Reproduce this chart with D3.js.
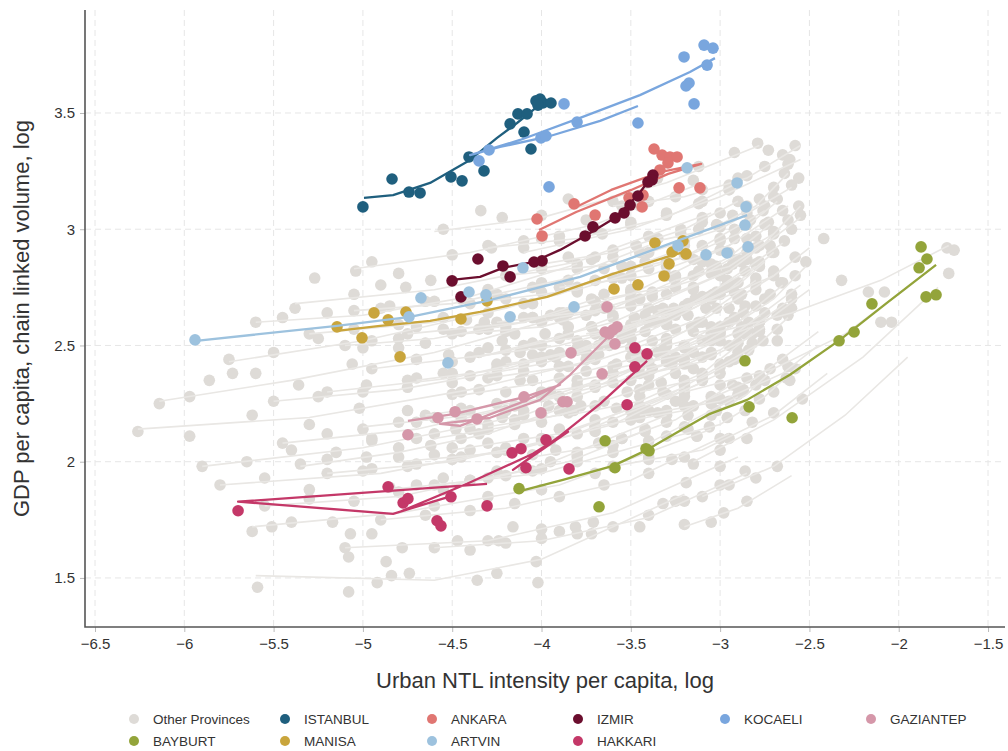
<!DOCTYPE html>
<html>
<head>
<meta charset="utf-8">
<script src="https://cdn.jsdelivr.net/npm/d3@7/dist/d3.min.js"></script>
<style>
    body { margin: 0; background: #fff; }
    .ntl-chart text { font-family: "Liberation Sans", Arial, sans-serif; fill: #333; }
</style>
</head>
<body>
<div class="ntl-chart"></div>
<script>
// tick values
const xTicks = [-6.5, -6, -5.5, -5, -4.5, -4, -3.5, -3, -2.5, -2, -1.5];
const yTicks = [1.5, 2, 2.5, 3, 3.5];

// legend rows
const legendRows = [
    ['Other Provinces', 'ISTANBUL', 'ANKARA', 'IZMIR', 'KOCAELI', 'GAZIANTEP'],
    ['BAYBURT', 'MANISA', 'ARTVIN', 'HAKKARI']
];

// highlighted provinces: observed points [ntl, gdp] and fitted path
const istanbulPts = [[-5.00,3.096],[-4.837,3.216],[-4.742,3.160],[-4.680,3.156],[-4.507,3.225],[-4.445,3.208],[-4.406,3.311],[-4.322,3.251],[-4.176,3.453],[-4.132,3.496],[-4.081,3.496],[-4.098,3.418],[-4.059,3.345],[-4.031,3.552],[-4.008,3.560],[-3.992,3.543],[-3.947,3.543],[-4.020,3.534]];
const istanbulFit = [[-4.994,3.135],[-4.831,3.147],[-4.624,3.199],[-4.400,3.298],[-4.249,3.393],[-4.137,3.457],[-4.025,3.526],[-3.992,3.547]];

const ankaraPts = [[-3.370,3.345],[-3.325,3.319],[-3.281,3.311],[-3.241,3.311],[-3.292,3.285],[-3.337,3.255],[-3.230,3.178],[-3.113,3.178],[-3.818,3.109],[-3.700,3.061],[-4.025,3.044],[-3.997,2.971],[-3.510,3.135],[-3.437,3.096],[-3.432,3.147]];
const ankaraFit = [[-4.014,2.997],[-3.806,3.074],[-3.498,3.169],[-3.291,3.238],[-3.106,3.281],[-3.330,3.247],[-3.610,3.169],[-3.806,3.096]];

const izmirPts = [[-3.376,3.233],[-3.381,3.212],[-3.404,3.203],[-3.460,3.143],[-3.504,3.104],[-3.538,3.070],[-3.588,3.049],[-3.712,3.010],[-3.756,2.971],[-3.997,2.864],[-4.042,2.859],[-4.216,2.842],[-4.176,2.795],[-4.356,2.872],[-4.501,2.778],[-4.451,2.709]];
const izmirFit = [[-4.501,2.782],[-4.344,2.795],[-4.216,2.834],[-4.048,2.859],[-3.896,2.911],[-3.756,2.971],[-3.588,3.049],[-3.460,3.147],[-3.376,3.233]];

const kocaeliPts = [[-4.350,3.294],[-4.294,3.341],[-4.003,3.393],[-3.975,3.401],[-3.874,3.539],[-3.801,3.461],[-3.460,3.457],[-3.958,3.182],[-3.202,3.741],[-3.090,3.792],[-3.040,3.779],[-3.174,3.629],[-3.073,3.706],[-3.146,3.539],[-3.191,3.616]];
const kocaeliFit = [[-3.460,3.530],[-3.672,3.466],[-3.952,3.401],[-4.232,3.354],[-4.400,3.319],[-4.120,3.384],[-3.784,3.479],[-3.449,3.577],[-3.169,3.676],[-3.029,3.736]];

const gaziantepPts = [[-4.748,2.116],[-4.580,2.189],[-4.484,2.215],[-4.361,2.184],[-4.098,2.279],[-4.003,2.210],[-3.880,2.258],[-3.857,2.258],[-3.835,2.468],[-3.661,2.378],[-3.644,2.558],[-3.600,2.567],[-3.577,2.580],[-3.622,2.550],[-3.589,2.507],[-3.633,2.666]];
const gaziantepFit = [[-4.748,2.176],[-4.484,2.206],[-4.092,2.279],[-3.896,2.331],[-4.120,2.253],[-4.456,2.154],[-4.568,2.163],[-4.288,2.189],[-4.008,2.266],[-3.840,2.374],[-3.616,2.546]];

const bayburtPts = [[-4.126,1.884],[-3.644,2.090],[-3.589,1.974],[-3.678,1.806],[-3.415,2.056],[-3.398,2.047],[-2.861,2.434],[-2.838,2.236],[-2.597,2.189],[-2.334,2.520],[-2.250,2.558],[-2.150,2.679],[-1.875,2.924],[-1.842,2.872],[-1.886,2.834],[-1.847,2.709],[-1.791,2.718]];
const bayburtFit = [[-4.132,1.871],[-3.880,1.922],[-3.600,1.982],[-3.409,2.051],[-3.225,2.133],[-3.057,2.206],[-2.849,2.266],[-2.609,2.374],[-2.329,2.524],[-2.066,2.683],[-1.791,2.847]];

const manisaPts = [[-5.145,2.580],[-4.938,2.640],[-4.859,2.610],[-4.759,2.644],[-5.005,2.533],[-4.792,2.451],[-4.451,2.614],[-4.305,2.692],[-3.594,2.743],[-3.460,2.761],[-3.314,2.799],[-3.286,2.851],[-3.365,2.941],[-3.269,2.902],[-3.208,2.950],[-3.191,2.894]];
const manisaFit = [[-5.145,2.563],[-4.904,2.584],[-4.624,2.606],[-4.344,2.644],[-3.969,2.709],[-3.600,2.808],[-3.297,2.881],[-3.180,2.907]];

const artvinPts = [[-5.940,2.524],[-4.675,2.705],[-4.524,2.425],[-4.406,2.730],[-4.311,2.718],[-4.742,2.623],[-4.176,2.623],[-4.104,2.834],[-3.818,2.666],[-3.185,3.264],[-3.236,2.928],[-3.079,2.890],[-2.961,2.898],[-2.905,3.199],[-2.855,3.096],[-2.861,3.018],[-2.844,2.924]];
const artvinFit = [[-5.934,2.520],[-5.145,2.584],[-4.736,2.623],[-4.305,2.692],[-3.784,2.795],[-3.225,2.954],[-2.849,3.061]];

const hakkariPts = [[-5.699,1.789],[-4.859,1.892],[-4.775,1.823],[-4.748,1.841],[-4.585,1.746],[-4.563,1.724],[-4.507,1.849],[-4.305,1.810],[-4.165,2.038],[-4.115,2.056],[-4.087,1.974],[-3.975,2.094],[-3.846,1.969],[-3.521,2.245],[-3.477,2.490],[-3.409,2.464],[-3.477,2.408]];
const hakkariFit = [[-4.305,1.905],[-5.699,1.828],[-4.831,1.776],[-4.501,1.853],[-4.792,1.785],[-4.417,1.905],[-4.048,2.034],[-3.852,2.129],[-4.160,1.965],[-3.896,2.111],[-3.672,2.249],[-3.409,2.434]];

// other provinces: fitted paths and observed points, one entry each
const grayFits = [
    [[-6.26,2.14],[-5.3,2.19],[-4.4,2.31],[-3.7,2.44]],
    [[-6.14,2.26],[-5.4,2.35],[-4.6,2.47],[-3.9,2.62]],
    [[-5.75,2.43],[-5.0,2.52],[-4.2,2.66],[-3.5,2.83]],
    [[-5.38,2.68],[-4.6,2.74],[-3.8,2.86],[-3.05,3.07]],
    [[-5.05,2.83],[-4.4,2.9],[-3.7,3.02],[-3.1,3.2]],
    [[-4.6,2.99],[-4.0,3.05],[-3.3,3.2],[-2.78,3.36]],
    [[-4.1,2.9],[-3.5,3.0],[-3.0,3.14],[-2.55,3.3]],
    [[-5.9,1.98],[-5.0,2.06],[-4.1,2.2],[-3.3,2.42]],
    [[-5.8,1.9],[-4.9,1.95],[-4.0,2.08],[-3.2,2.32]],
    [[-5.62,1.72],[-4.8,1.78],[-3.9,1.9],[-3.05,2.14]],
    [[-5.6,1.51],[-4.6,1.49],[-4.0,1.58],[-3.2,1.86]],
    [[-5.1,1.63],[-4.3,1.66],[-3.6,1.78],[-2.9,2.02]],
    [[-5.55,1.81],[-4.8,1.85],[-4.0,1.98],[-3.3,2.2]],
    [[-5.45,2.08],[-4.7,2.14],[-3.9,2.28],[-3.1,2.52]],
    [[-5.2,2.3],[-4.5,2.36],[-3.8,2.48],[-3.0,2.72]],
    [[-4.95,2.4],[-4.3,2.46],[-3.6,2.6],[-2.95,2.82]],
    [[-4.75,2.55],[-4.1,2.6],[-3.5,2.72],[-2.9,2.95]],
    [[-4.4,2.68],[-3.8,2.74],[-3.2,2.88],[-2.75,3.08]],
    [[-4.2,2.8],[-3.6,2.85],[-3.0,3.0],[-2.6,3.18]],
    [[-4.65,2.2],[-4.0,2.27],[-3.4,2.42],[-2.85,2.66]],
    [[-4.5,2.05],[-3.9,2.12],[-3.3,2.28],[-2.8,2.5]],
    [[-4.3,2.36],[-3.75,2.42],[-3.2,2.56],[-2.7,2.8]],
    [[-4.1,2.5],[-3.6,2.56],[-3.1,2.7],[-2.65,2.94]],
    [[-3.9,2.62],[-3.4,2.68],[-2.95,2.82],[-2.55,3.05]],
    [[-3.8,2.35],[-3.3,2.42],[-2.9,2.56],[-2.55,2.76]],
    [[-3.7,2.15],[-3.2,2.22],[-2.8,2.36],[-2.45,2.56]],
    [[-3.6,1.98],[-3.1,2.05],[-2.7,2.2],[-2.4,2.38]],
    [[-3.3,2.5],[-2.6,2.64],[-2.1,2.78],[-1.72,2.93]],
    [[-3.2,2.3],[-2.7,2.4],[-2.3,2.55],[-1.95,2.75]],
    [[-3.15,2.0],[-2.7,2.18],[-2.2,2.45],[-1.78,2.75]],
    [[-3.1,1.85],[-2.7,1.98],[-2.3,2.2],[-1.95,2.45]],
    [[-3.2,1.72],[-2.9,1.8],[-2.6,1.94]],
    [[-5.3,2.55],[-4.6,2.6],[-3.9,2.72],[-3.2,2.92]],
    [[-5.5,2.26],[-4.8,2.31],[-4.0,2.42],[-3.3,2.6]],
    [[-5.2,1.95],[-4.5,2.0],[-3.8,2.12],[-3.1,2.34]],
    [[-4.9,1.75],[-4.2,1.8],[-3.5,1.92],[-2.95,2.12]],
    [[-4.6,1.9],[-4.0,1.95],[-3.4,2.08],[-2.9,2.28]],
    [[-4.4,2.45],[-3.9,2.5],[-3.3,2.62],[-2.8,2.84]],
    [[-4.0,2.3],[-3.5,2.35],[-3.0,2.48],[-2.6,2.7]],
    [[-3.9,2.75],[-3.4,2.8],[-2.95,2.93],[-2.62,3.1]],
    [[-3.6,3.1],[-3.2,3.14],[-2.85,3.22],[-2.55,3.36]],
    [[-5.05,2.65],[-4.5,2.68],[-3.9,2.78],[-3.4,2.93]],
    [[-4.8,2.0],[-4.2,2.04],[-3.6,2.16],[-3.0,2.38]],
    [[-4.25,2.6],[-3.7,2.65],[-3.15,2.78],[-2.7,2.98]],
    [[-3.5,2.45],[-3.1,2.5],[-2.75,2.6],[-2.5,2.74]],
    [[-3.45,2.2],[-3.0,2.26],[-2.65,2.38],[-2.45,2.5]],
    [[-3.35,2.65],[-3.0,2.7],[-2.7,2.8],[-2.5,2.92]],
    [[-5.6,2.6],[-5.0,2.63],[-4.4,2.71],[-3.8,2.85]],
    [[-4.6,1.63],[-4.0,1.66],[-3.4,1.76],[-2.85,1.95]],
    [[-5.0,2.15],[-4.4,2.2],[-3.7,2.32],[-3.05,2.55]],
    [[-4.3,2.92],[-3.8,2.96],[-3.3,3.05],[-2.9,3.2]],
    [[-3.75,2.55],[-3.3,2.62],[-2.95,2.74],[-2.7,2.9]],
    [[-3.65,2.7],[-3.25,2.76],[-2.95,2.88],[-2.72,3.02]],
    [[-3.6,2.4],[-3.2,2.46],[-2.9,2.6],[-2.65,2.76]],
    [[-3.55,2.82],[-3.2,2.88],[-2.9,2.98],[-2.68,3.12]],
    [[-3.9,2.45],[-3.5,2.5],[-3.1,2.62],[-2.8,2.78]],
    [[-3.45,2.3],[-3.1,2.36],[-2.85,2.46],[-2.62,2.62]],
    [[-3.85,2.2],[-3.45,2.26],[-3.1,2.38],[-2.82,2.55]],
    [[-4.2,2.42],[-3.8,2.47],[-3.4,2.56],[-3.05,2.7]],
    [[-4.3,2.15],[-3.9,2.2],[-3.5,2.3],[-3.1,2.45]],
    [[-3.35,2.95],[-3.05,3.0],[-2.8,3.1],[-2.62,3.24]],
    [[-4.45,2.55],[-4.0,2.58],[-3.6,2.66],[-3.25,2.78]],
    [[-3.3,2.1],[-3.0,2.16],[-2.75,2.28],[-2.55,2.42]],
    [[-3.25,2.78],[-2.95,2.84],[-2.75,2.94],[-2.55,3.1]],
    [[-4.05,2.02],[-3.65,2.07],[-3.25,2.18],[-2.92,2.34]],
    [[-3.15,2.55],[-2.9,2.6],[-2.7,2.7],[-2.52,2.84]],
    [[-4.7,2.35],[-4.2,2.4],[-3.7,2.5],[-3.3,2.66]],
    [[-4.5,2.28],[-4.0,2.34],[-3.5,2.44],[-3.15,2.58]],
    [[-4.0,2.85],[-3.6,2.9],[-3.2,3.0],[-2.9,3.12]],
    [[-5.35,1.98],[-4.8,2.04],[-4.3,2.12],[-3.85,2.24]],
    [[-5.1,2.5],[-4.6,2.53],[-4.1,2.6],[-3.7,2.7]],
    [[-4.85,1.88],[-4.35,1.92],[-3.85,2.0],[-3.4,2.14]],
    [[-3.5,2.6],[-3.15,2.66],[-2.9,2.76],[-2.75,2.86]],
    [[-3.4,2.38],[-3.1,2.43],[-2.85,2.53],[-2.75,2.58]],
    [[-4.35,2.45],[-3.95,2.52],[-3.6,2.62]],
    [[-4.6,2.1],[-4.2,2.15],[-3.8,2.22]],
    [[-3.05,2.2],[-2.85,2.29],[-2.7,2.4]]
];

const grayPts = [
    [[-6.26,2.13],[-5.97,2.11],[-5.62,2.2],[-5.3,2.16],[-5.02,2.23],[-4.75,2.22],[-4.45,2.3],[-4.12,2.35],[-3.85,2.41],[-3.68,2.46]],
    [[-6.14,2.25],[-5.97,2.28],[-5.86,2.35],[-5.6,2.38],[-5.36,2.33],[-5.06,2.42],[-4.8,2.49],[-4.52,2.46],[-4.2,2.56],[-3.95,2.63]],
    [[-5.75,2.44],[-5.73,2.38],[-5.5,2.47],[-5.25,2.53],[-5.0,2.49],[-4.7,2.58],[-4.42,2.61],[-4.1,2.68],[-3.8,2.74],[-3.5,2.84]],
    [[-5.38,2.66],[-5.27,2.79],[-5.05,2.72],[-4.9,2.76],[-4.62,2.78],[-4.3,2.74],[-4.0,2.83],[-3.7,2.88],[-3.4,2.97],[-3.1,3.05]],
    [[-5.04,2.82],[-4.95,2.86],[-4.8,2.81],[-4.76,2.75],[-4.5,2.89],[-4.28,2.92],[-4.0,2.96],[-3.75,3.04],[-3.45,3.1],[-3.15,3.21]],
    [[-4.55,3.0],[-4.34,3.08],[-4.22,3.05],[-4.0,3.06],[-3.85,3.13],[-3.6,3.12],[-3.35,3.22],[-3.12,3.27],[-2.92,3.33],[-2.79,3.37]],
    [[-4.1,2.92],[-3.9,2.95],[-3.66,2.98],[-3.5,3.03],[-3.3,3.07],[-3.12,3.11],[-2.95,3.17],[-2.73,3.34],[-2.61,3.3],[-2.56,3.22]],
    [[-5.9,1.98],[-5.65,2.0],[-5.4,2.05],[-5.2,2.01],[-4.95,2.09],[-4.7,2.1],[-4.4,2.14],[-4.1,2.22],[-3.8,2.28],[-3.5,2.35],[-3.3,2.43]],
    [[-5.8,1.9],[-5.55,1.93],[-5.3,1.88],[-5.0,1.96],[-4.75,1.98],[-4.5,2.01],[-4.25,2.04],[-4.0,2.1],[-3.7,2.15],[-3.45,2.24],[-3.2,2.33]],
    [[-5.62,1.7],[-5.51,1.72],[-5.4,1.74],[-5.17,1.74],[-5.07,1.69],[-4.95,1.69],[-4.6,1.81],[-4.3,1.85],[-4.0,1.88],[-3.7,1.95],[-3.4,2.02],[-3.13,2.11]],
    [[-5.59,1.46],[-5.08,1.44],[-4.92,1.48],[-4.84,1.51],[-4.74,1.52],[-4.36,1.49],[-4.25,1.52],[-4.02,1.48],[-4.03,1.57],[-3.72,1.69],[-3.45,1.72],[-3.19,1.91]],
    [[-5.1,1.63],[-5.08,1.59],[-4.87,1.57],[-4.78,1.63],[-4.47,1.66],[-4.3,1.66],[-4.24,1.66],[-4.16,1.72],[-4.0,1.71],[-3.9,1.7],[-3.81,1.72],[-3.71,1.74],[-3.32,1.82],[-3.25,1.83],[-3.0,1.98]],
    [[-5.55,1.81],[-5.3,1.84],[-5.05,1.83],[-4.8,1.87],[-4.55,1.88],[-4.3,1.93],[-4.05,1.96],[-3.8,2.02],[-3.55,2.1],[-3.3,2.2]],
    [[-5.45,2.08],[-5.2,2.12],[-4.95,2.1],[-4.7,2.17],[-4.45,2.19],[-4.2,2.22],[-3.95,2.3],[-3.7,2.33],[-3.45,2.42],[-3.2,2.5]],
    [[-5.2,2.3],[-4.98,2.33],[-4.75,2.35],[-4.5,2.38],[-4.25,2.4],[-4.0,2.45],[-3.75,2.5],[-3.5,2.57],[-3.25,2.63],[-3.02,2.73]],
    [[-4.95,2.4],[-4.7,2.44],[-4.5,2.43],[-4.3,2.49],[-4.05,2.51],[-3.85,2.55],[-3.6,2.62],[-3.4,2.66],[-3.15,2.74],[-2.96,2.83]],
    [[-4.75,2.55],[-4.55,2.57],[-4.32,2.6],[-4.1,2.62],[-3.9,2.64],[-3.7,2.69],[-3.5,2.73],[-3.3,2.8],[-3.1,2.86],[-2.92,2.96]],
    [[-4.4,2.68],[-4.2,2.7],[-4.0,2.73],[-3.8,2.75],[-3.6,2.79],[-3.4,2.83],[-3.2,2.89],[-3.0,2.96],[-2.85,3.02],[-2.75,3.1]],
    [[-4.2,2.8],[-4.0,2.84],[-3.8,2.83],[-3.6,2.88],[-3.4,2.9],[-3.2,2.95],[-3.0,3.01],[-2.85,3.07],[-2.7,3.14],[-2.6,3.19]],
    [[-4.65,2.2],[-4.45,2.23],[-4.25,2.25],[-4.0,2.28],[-3.8,2.33],[-3.6,2.38],[-3.4,2.43],[-3.2,2.5],[-3.0,2.58],[-2.86,2.67]],
    [[-4.5,2.06],[-4.3,2.08],[-4.1,2.1],[-3.9,2.14],[-3.7,2.18],[-3.5,2.22],[-3.3,2.29],[-3.1,2.35],[-2.95,2.43],[-2.82,2.51]],
    [[-4.3,2.36],[-4.1,2.39],[-3.9,2.41],[-3.7,2.44],[-3.5,2.49],[-3.3,2.53],[-3.1,2.6],[-2.95,2.66],[-2.8,2.74],[-2.7,2.8]],
    [[-4.1,2.5],[-3.9,2.53],[-3.7,2.55],[-3.5,2.59],[-3.3,2.63],[-3.1,2.71],[-2.95,2.77],[-2.8,2.85],[-2.7,2.9],[-2.64,2.95]],
    [[-3.9,2.62],[-3.7,2.65],[-3.5,2.67],[-3.3,2.72],[-3.15,2.75],[-3.0,2.8],[-2.85,2.87],[-2.72,2.93],[-2.6,3.0],[-2.55,3.06]],
    [[-3.8,2.35],[-3.6,2.38],[-3.45,2.41],[-3.3,2.44],[-3.15,2.47],[-3.0,2.52],[-2.88,2.58],[-2.75,2.64],[-2.6,2.72]],
    [[-3.7,2.15],[-3.5,2.18],[-3.35,2.21],[-3.2,2.24],[-3.05,2.28],[-2.9,2.32],[-2.78,2.37],[-2.65,2.44]],
    [[-3.6,1.98],[-3.4,2.01],[-3.27,2.01],[-3.13,2.11],[-2.95,2.1],[-2.82,2.17],[-2.7,2.21]],
    [[-3.3,2.51],[-3.0,2.56],[-2.78,2.6],[-2.42,2.96],[-2.32,2.78],[-1.73,2.92],[-1.69,2.91],[-1.72,2.81]],
    [[-3.2,2.3],[-3.0,2.33],[-2.85,2.36],[-2.6,2.66],[-2.17,2.73],[-2.08,2.73],[-2.1,2.6],[-2.04,2.6]],
    [[-3.15,1.99],[-3.0,2.05],[-2.85,2.1],[-2.68,2.52],[-2.61,2.35],[-2.54,2.27]],
    [[-3.1,1.85],[-2.95,1.9],[-2.8,1.93],[-2.68,1.98]],
    [[-3.2,1.73],[-3.05,1.74],[-2.98,1.78],[-2.85,1.83]],
    [[-5.3,2.55],[-5.05,2.57],[-4.8,2.59],[-4.55,2.62],[-4.3,2.64],[-4.05,2.68],[-3.8,2.73],[-3.55,2.79],[-3.3,2.86],[-3.2,2.93]],
    [[-5.5,2.26],[-5.25,2.28],[-5.0,2.3],[-4.75,2.32],[-4.5,2.34],[-4.25,2.37],[-4.0,2.43],[-3.75,2.47],[-3.5,2.53],[-3.3,2.61]],
    [[-5.2,1.95],[-4.95,1.97],[-4.7,1.99],[-4.45,2.02],[-4.2,2.05],[-3.95,2.09],[-3.7,2.13],[-3.45,2.19],[-3.25,2.26],[-3.1,2.35]],
    [[-4.9,1.75],[-4.65,1.77],[-4.4,1.79],[-4.15,1.82],[-3.9,1.85],[-3.65,1.9],[-3.4,1.95],[-3.2,2.02],[-3.0,2.1]],
    [[-4.6,1.9],[-4.4,1.92],[-4.2,1.94],[-4.0,1.97],[-3.8,2.0],[-3.6,2.04],[-3.4,2.09],[-3.2,2.15],[-3.05,2.2],[-2.9,2.29]],
    [[-4.4,2.45],[-4.2,2.48],[-4.0,2.5],[-3.8,2.52],[-3.6,2.56],[-3.4,2.6],[-3.2,2.65],[-3.0,2.72],[-2.9,2.77],[-2.8,2.85]],
    [[-4.0,2.3],[-3.8,2.32],[-3.6,2.34],[-3.4,2.37],[-3.2,2.42],[-3.05,2.46],[-2.9,2.51],[-2.78,2.56],[-2.68,2.63],[-2.6,2.7]],
    [[-3.9,2.75],[-3.7,2.78],[-3.5,2.8],[-3.3,2.84],[-3.15,2.87],[-3.0,2.91],[-2.85,2.96],[-2.75,3.02],[-2.65,3.08]],
    [[-3.55,3.1],[-3.4,3.12],[-3.25,3.14],[-3.1,3.17],[-2.95,3.19],[-2.85,3.23],[-2.75,3.27],[-2.65,3.32],[-2.58,3.36]],
    [[-5.05,2.65],[-4.85,2.67],[-4.65,2.69],[-4.45,2.7],[-4.25,2.72],[-4.05,2.75],[-3.85,2.78],[-3.65,2.83],[-3.45,2.9]],
    [[-4.8,2.02],[-4.6,2.03],[-4.4,2.05],[-4.2,2.06],[-4.0,2.09],[-3.8,2.12],[-3.6,2.17],[-3.4,2.22],[-3.2,2.28],[-3.0,2.38]],
    [[-4.25,2.6],[-4.05,2.62],[-3.85,2.64],[-3.65,2.66],[-3.45,2.7],[-3.25,2.75],[-3.05,2.81],[-2.9,2.87],[-2.8,2.92],[-2.7,2.99]],
    [[-3.5,2.45],[-3.35,2.47],[-3.2,2.49],[-3.05,2.52],[-2.9,2.55],[-2.78,2.6],[-2.65,2.66]],
    [[-3.45,2.2],[-3.3,2.22],[-3.15,2.24],[-3.0,2.27],[-2.87,2.31],[-2.75,2.35],[-2.62,2.41]],
    [[-3.35,2.65],[-3.2,2.67],[-3.05,2.7],[-2.92,2.73],[-2.8,2.77],[-2.7,2.82],[-2.58,2.88]],
    [[-5.6,2.6],[-5.45,2.62],[-5.2,2.64],[-4.9,2.66],[-4.6,2.69],[-4.3,2.72],[-4.0,2.77],[-3.8,2.85]],
    [[-4.6,1.63],[-4.4,1.62],[-4.2,1.65],[-4.0,1.67],[-3.8,1.69],[-3.6,1.72],[-3.4,1.77],[-3.2,1.83],[-3.0,1.9],[-2.86,1.96]],
    [[-5.0,2.14],[-4.8,2.17],[-4.6,2.19],[-4.4,2.22],[-4.15,2.24],[-3.9,2.28],[-3.7,2.32],[-3.45,2.38],[-3.25,2.45],[-3.05,2.55]],
    [[-4.3,2.93],[-4.1,2.95],[-3.9,2.97],[-3.7,3.0],[-3.5,3.02],[-3.3,3.06],[-3.1,3.12],[-2.95,3.17],[-2.9,3.22]],
    [[-3.72,2.58],[-3.55,2.55],[-3.42,2.63],[-3.3,2.6],[-3.18,2.68],[-3.08,2.66],[-2.97,2.75],[-2.88,2.72],[-2.78,2.84],[-2.71,2.9]],
    [[-3.65,2.72],[-3.5,2.74],[-3.38,2.71],[-3.25,2.79],[-3.15,2.8],[-3.05,2.85],[-2.95,2.9],[-2.88,2.86],[-2.8,2.97],[-2.73,3.03]],
    [[-3.58,2.42],[-3.45,2.44],[-3.32,2.48],[-3.2,2.44],[-3.1,2.52],[-3.0,2.55],[-2.92,2.62],[-2.84,2.6],[-2.75,2.7],[-2.66,2.77]],
    [[-3.55,2.84],[-3.42,2.86],[-3.3,2.86],[-3.2,2.9],[-3.1,2.93],[-3.0,2.95],[-2.92,3.0],[-2.83,3.04],[-2.76,3.08],[-2.68,3.13]],
    [[-3.9,2.47],[-3.75,2.44],[-3.62,2.5],[-3.5,2.53],[-3.38,2.52],[-3.25,2.57],[-3.12,2.6],[-3.02,2.66],[-2.9,2.7],[-2.8,2.79]],
    [[-3.45,2.31],[-3.33,2.34],[-3.2,2.35],[-3.1,2.38],[-3.0,2.41],[-2.92,2.44],[-2.84,2.48],[-2.76,2.52],[-2.68,2.57],[-2.62,2.63]],
    [[-3.85,2.21],[-3.7,2.24],[-3.58,2.23],[-3.45,2.28],[-3.32,2.3],[-3.2,2.33],[-3.1,2.37],[-3.0,2.42],[-2.9,2.47],[-2.82,2.55]],
    [[-4.2,2.43],[-4.05,2.46],[-3.92,2.45],[-3.8,2.49],[-3.68,2.5],[-3.55,2.53],[-3.42,2.56],[-3.3,2.59],[-3.18,2.63],[-3.06,2.71]],
    [[-4.3,2.16],[-4.15,2.18],[-4.0,2.17],[-3.9,2.22],[-3.78,2.24],[-3.65,2.26],[-3.52,2.3],[-3.4,2.33],[-3.25,2.38],[-3.1,2.45]],
    [[-3.35,2.96],[-3.22,2.98],[-3.12,3.0],[-3.02,3.02],[-2.93,3.06],[-2.85,3.1],[-2.78,3.13],[-2.7,3.18],[-2.64,3.24],[-2.62,3.28]],
    [[-4.45,2.56],[-4.3,2.57],[-4.15,2.55],[-4.0,2.6],[-3.88,2.61],[-3.75,2.63],[-3.62,2.66],[-3.5,2.7],[-3.38,2.73],[-3.26,2.79]],
    [[-3.3,2.11],[-3.18,2.14],[-3.06,2.15],[-2.96,2.19],[-2.86,2.22],[-2.78,2.27],[-2.7,2.3],[-2.63,2.36],[-2.58,2.4]],
    [[-3.25,2.8],[-3.12,2.82],[-3.02,2.84],[-2.93,2.85],[-2.85,2.9],[-2.78,2.93],[-2.7,2.98],[-2.62,3.04],[-2.56,3.1]],
    [[-4.05,2.03],[-3.92,2.05],[-3.8,2.04],[-3.68,2.08],[-3.55,2.1],[-3.42,2.13],[-3.3,2.17],[-3.18,2.2],[-3.05,2.25],[-2.93,2.33]],
    [[-3.15,2.56],[-3.05,2.58],[-2.95,2.6],[-2.87,2.64],[-2.8,2.67],[-2.72,2.72],[-2.65,2.77],[-2.58,2.8],[-2.52,2.86]],
    [[-4.7,2.36],[-4.55,2.38],[-4.4,2.37],[-4.25,2.42],[-4.1,2.42],[-3.95,2.46],[-3.8,2.48],[-3.65,2.52],[-3.5,2.57],[-3.32,2.66]],
    [[-4.5,2.29],[-4.35,2.31],[-4.2,2.3],[-4.05,2.35],[-3.9,2.36],[-3.75,2.39],[-3.6,2.41],[-3.45,2.46],[-3.3,2.5],[-3.16,2.58]],
    [[-4.0,2.86],[-3.85,2.88],[-3.72,2.87],[-3.6,2.91],[-3.47,2.93],[-3.35,2.96],[-3.22,3.0],[-3.1,3.03],[-3.0,3.07],[-2.9,3.12]],
    [[-5.35,1.99],[-5.15,2.04],[-4.98,2.02],[-4.8,2.06],[-4.62,2.07],[-4.45,2.1],[-4.3,2.14],[-4.15,2.16],[-4.0,2.2],[-3.86,2.25]],
    [[-5.1,2.5],[-4.95,2.52],[-4.8,2.53],[-4.65,2.51],[-4.5,2.55],[-4.35,2.57],[-4.2,2.58],[-4.05,2.62],[-3.88,2.64],[-3.72,2.7]],
    [[-4.85,1.89],[-4.7,1.9],[-4.55,1.93],[-4.4,1.92],[-4.25,1.96],[-4.1,1.97],[-3.95,2.0],[-3.8,2.03],[-3.6,2.07],[-3.42,2.14]],
    [[-3.48,2.62],[-3.36,2.6],[-3.26,2.66],[-3.14,2.7],[-3.04,2.72],[-2.96,2.78],[-2.86,2.82],[-2.78,2.86]],
    [[-3.38,2.4],[-3.27,2.42],[-3.15,2.4],[-3.05,2.47],[-2.95,2.5],[-2.86,2.55],[-2.78,2.57]],
    [[-4.35,2.47],[-4.22,2.52],[-4.12,2.47],[-3.98,2.55],[-3.85,2.58],[-3.72,2.58],[-3.6,2.63]],
    [[-4.6,2.12],[-4.48,2.14],[-4.35,2.12],[-4.22,2.19],[-4.1,2.2],[-3.96,2.24],[-3.82,2.22]],
    [[-3.02,2.22],[-2.95,2.26],[-2.88,2.3],[-2.8,2.33],[-2.72,2.4]]
];

const colors = {
    'Other Provinces': '#dedbd7',
    ISTANBUL: '#1f5f7e',
    ANKARA: '#e07672',
    IZMIR: '#6b0e2e',
    KOCAELI: '#79a6de',
    GAZIANTEP: '#d597a9',
    BAYBURT: '#93a43a',
    MANISA: '#c9a53c',
    ARTVIN: '#9dc2de',
    HAKKARI: '#c43868'
};

const highlighted = [
    { name: 'ISTANBUL', pts: istanbulPts, fit: istanbulFit },
    { name: 'KOCAELI', pts: kocaeliPts, fit: kocaeliFit },
    { name: 'ANKARA', pts: ankaraPts, fit: ankaraFit },
    { name: 'IZMIR', pts: izmirPts, fit: izmirFit },
    { name: 'MANISA', pts: manisaPts, fit: manisaFit },
    { name: 'ARTVIN', pts: artvinPts, fit: artvinFit },
    { name: 'GAZIANTEP', pts: gaziantepPts, fit: gaziantepFit },
    { name: 'HAKKARI', pts: hakkariPts, fit: hakkariFit },
    { name: 'BAYBURT', pts: bayburtPts, fit: bayburtFit }
];

class ProvinceChart {
    constructor(options) {
        this.options = Object.assign({
            selector: '.ntl-chart',
            width: 1008,
            height: 751,
            left: 85,
            right: 1005,
            top: 10,
            bottom: 627,
            xDomain: [-6.556, -1.405],
            yDomain: [1.289, 3.943],
            dotRadius: 5.8
        }, options);

        this.initChart();
    }

    initChart() {
        const { selector, width, height } = this.options;
        const container = d3.select(selector);

        container.selectAll('svg').remove();

        this.chart = container.append('svg')
            .attr('width', width)
            .attr('height', height);

        this.initScales();
        this.drawGrid();
        this.drawOthers();
        this.drawHighlighted();
        this.drawAxes();
        this.drawLegend();
    }

    initScales() {
        const { left, right, top, bottom, xDomain, yDomain } = this.options;

        this.x = d3.scaleLinear().domain(xDomain).range([left, right]);
        this.y = d3.scaleLinear().domain(yDomain).range([bottom, top]);
        this.line = d3.line().x(d => this.x(d[0])).y(d => this.y(d[1]));
    }

    drawGrid() {
        const { left, right, top, bottom } = this.options;
        const grid = this.chart.append('g').classed('grid', true)
            .attr('stroke', '#e6e6e6')
            .attr('stroke-width', 1)
            .attr('stroke-dasharray', '6,4');

        grid.selectAll('.vgrid').data(xTicks).enter()
            .append('line')
            .attr('x1', d => this.x(d)).attr('x2', d => this.x(d))
            .attr('y1', top).attr('y2', bottom);

        grid.selectAll('.hgrid').data(yTicks).enter()
            .append('line')
            .attr('x1', left).attr('x2', right)
            .attr('y1', d => this.y(d)).attr('y2', d => this.y(d));
    }

    drawOthers() {
        const { dotRadius } = this.options;
        const others = this.chart.append('g').classed('others', true);

        others.selectAll('circle').data(grayPts.flat()).enter()
            .append('circle')
            .attr('cx', d => this.x(d[0]))
            .attr('cy', d => this.y(d[1]))
            .attr('r', dotRadius)
            .attr('fill', colors['Other Provinces']);

        // fitted paths sit above the grey dots, slightly lighter
        others.selectAll('path').data(grayFits).enter()
            .append('path')
            .attr('d', this.line)
            .attr('fill', 'none')
            .attr('stroke', '#e9e7e4')
            .attr('stroke-width', 1.6);
    }

    drawHighlighted() {
        const { dotRadius } = this.options;
        const groups = this.chart.append('g').classed('highlighted', true)
            .selectAll('g').data(highlighted).enter()
            .append('g');

        groups.append('path')
            .attr('d', d => this.line(d.fit))
            .attr('fill', 'none')
            .attr('stroke', d => colors[d.name])
            .attr('stroke-width', 2.3)
            .attr('stroke-linejoin', 'round');

        groups.selectAll('circle').data(d => d.pts.map(p => ({ p, c: colors[d.name] }))).enter()
            .append('circle')
            .attr('cx', d => this.x(d.p[0]))
            .attr('cy', d => this.y(d.p[1]))
            .attr('r', dotRadius)
            .attr('fill', d => d.c);
    }

    drawAxes() {
        const { left, bottom, top, right } = this.options;
        const fmt = d => d3.format('')(d).replace('-', '\u2212');

        const xAxis = this.chart.append('g')
            .attr('transform', `translate(0, ${bottom})`)
            .call(d3.axisBottom(this.x).tickValues(xTicks).tickSize(5).tickPadding(6).tickFormat(fmt));

        const yAxis = this.chart.append('g')
            .attr('transform', `translate(${left}, 0)`)
            .call(d3.axisLeft(this.y).tickValues(yTicks).tickSize(5).tickPadding(5).tickFormat(fmt));

        [xAxis, yAxis].forEach(a => {
            a.select('.domain').remove();
            a.selectAll('.tick line').attr('stroke', '#bbb');
            a.selectAll('.tick text')
                .attr('font-size', 15)
                .attr('font-family', '"Liberation Sans Narrow", "Liberation Sans", Arial, sans-serif')
                .attr('fill', '#333');
        });

        // axis lines
        this.chart.append('path')
            .attr('d', `M${left},${top}V${bottom}H${right}`)
            .attr('fill', 'none')
            .attr('stroke', '#555')
            .attr('stroke-width', 1.6);

        this.chart.append('text')
            .attr('x', (left + right) / 2)
            .attr('y', 688)
            .attr('text-anchor', 'middle')
            .attr('font-size', 22)
            .text('Urban NTL intensity per capita, log');

        this.chart.append('text')
            .attr('transform', `translate(29, ${(top + bottom) / 2}) rotate(-90)`)
            .attr('text-anchor', 'middle')
            .attr('font-size', 22)
            .text('GDP per capita, chain linked volume, log');
    }

    drawLegend() {
        const colX = [134, 285, 432, 578, 725, 871];
        const rowY = [719, 741];
        const legend = this.chart.append('g').classed('legend', true);

        legendRows.forEach((row, r) => {
            const items = legend.selectAll(`.row${r}`).data(row).enter()
                .append('g')
                .attr('transform', (d, i) => `translate(${colX[i]}, ${rowY[r]})`);

            items.append('circle')
                .attr('r', 5)
                .attr('fill', d => colors[d]);

            items.append('text')
                .attr('x', 19)
                .attr('dy', '0.35em')
                .attr('font-size', 13.5)
                .text(d => d);
        });
    }
}

const provinceChart = new ProvinceChart();
</script>
</body>
</html>
